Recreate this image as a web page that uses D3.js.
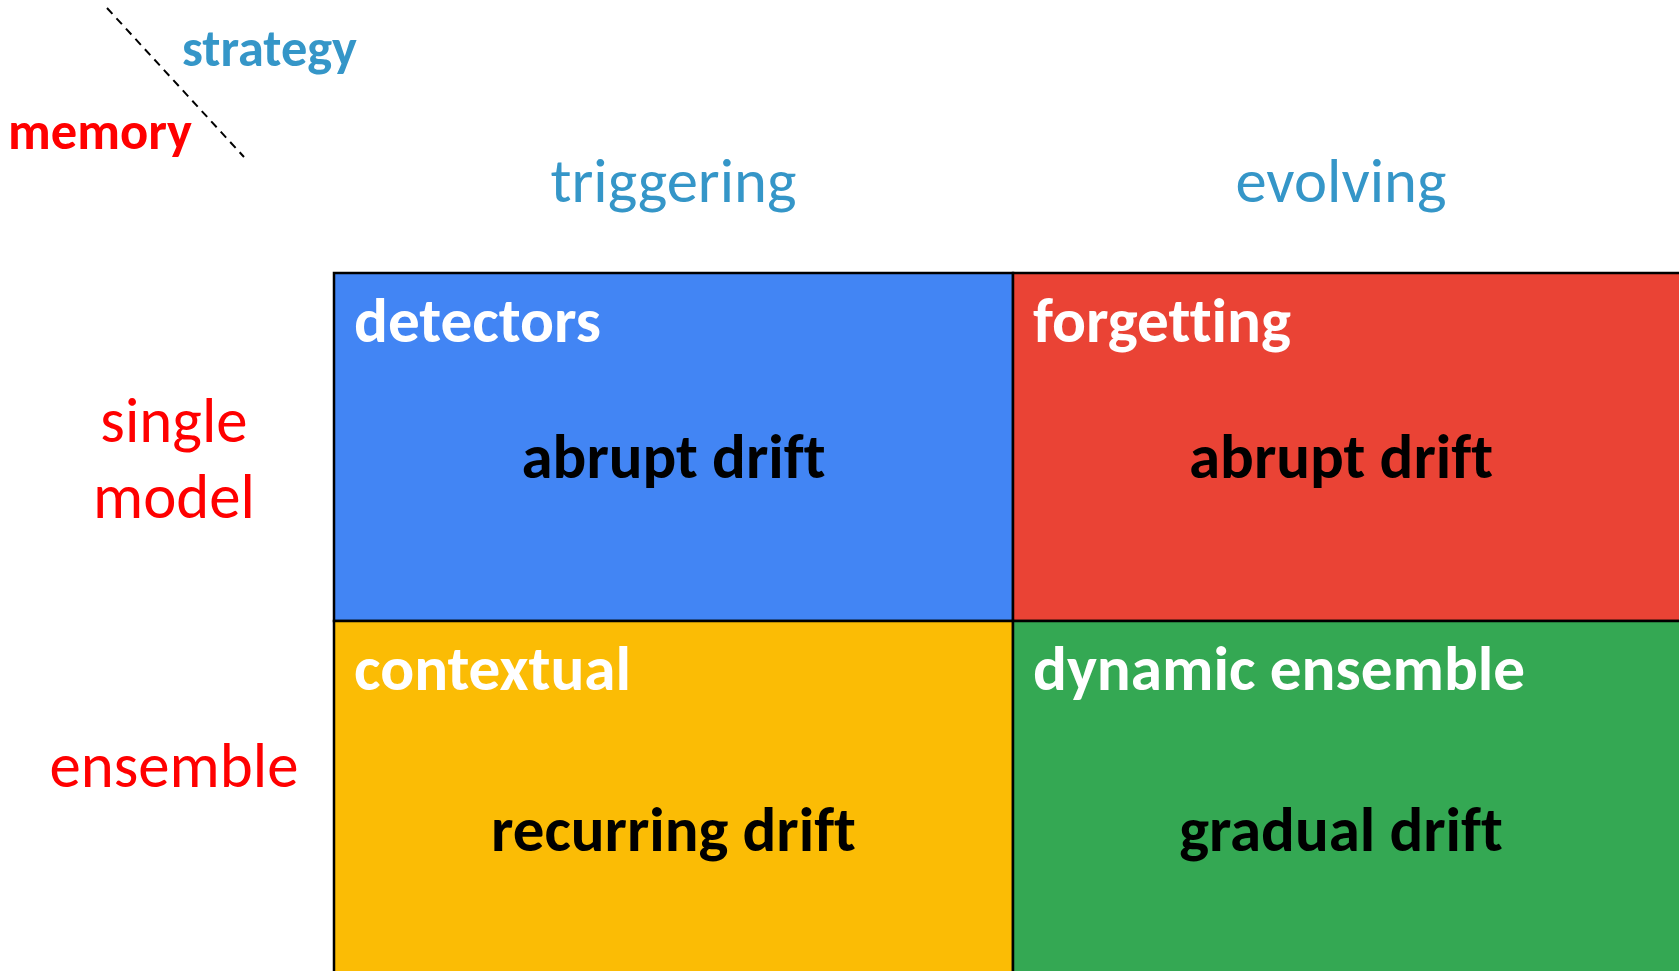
<!DOCTYPE html>
<html>
<head>
<meta charset="utf-8">
<script src="https://cdn.jsdelivr.net/npm/d3@7"></script>
<style>
  html, body { margin: 0; padding: 0; background: #fff; overflow: hidden; }
  svg { display: block; }
  text { font-variant-ligatures: none; font-feature-settings: "liga" 0, "clig" 0; }
</style>
</head>
<body>
<svg id="chart" width="1679" height="971"></svg>
<script>
// ---- data ----
const strategies = ["triggering", "evolving"];          // column headers
const memories = ["single model", "ensemble"];           // row headers
const cellStrategy = ["triggering", "evolving", "triggering", "evolving"];
const cellMemory = ["single model", "single model", "ensemble", "ensemble"];
const methods = ["detectors", "forgetting", "contextual", "dynamic ensemble"];
const drifts = ["abrupt drift", "abrupt drift", "recurring drift", "gradual drift"];
const axisTitles = ["strategy", "memory"];

// ---- layout / styles ----
const W = 1679, H = 971;
const FONT = "Calibri, Carlito, Lato, 'Open Sans', sans-serif";
const headerBlue = "#3596C8";
const memRed = "#FF0000";
const fillColor = d3.scaleOrdinal()
  .domain(methods)
  .range(["#4285F4", "#EA4335", "#FBBC05", "#34A853"]);

const svg = d3.select("#chart");

// grid scales (nominal cell extents; the grid bleeds past the page edges)
const x = d3.scaleOrdinal().domain(strategies).range([334, 1013]);
const xEnd = d3.scaleOrdinal().domain(strategies).range([1013, 1669]);
const y = d3.scaleOrdinal().domain(memories).range([273, 621]);
const yEnd = d3.scaleOrdinal().domain(memories).range([621, 1018]);
const bleed = 40;

const cells = methods.map((m, i) => ({
  method: m, drift: drifts[i], s: cellStrategy[i], mem: cellMemory[i]
}));

function fitGroup(sel, refIndex, targetWidth) {
  const node = sel.nodes()[refIndex];
  const fs = parseFloat(d3.select(node).attr("font-size"));
  const w = node.getComputedTextLength();
  sel.attr("font-size", fs * targetWidth / w);
}

// cells
svg.append("g").selectAll("rect")
  .data(cells)
  .join("rect")
  .attr("x", d => x(d.s))
  .attr("y", d => y(d.mem))
  .attr("width", d => (xEnd(d.s) - x(d.s)) + (d.s === strategies[1] ? bleed : 0))
  .attr("height", d => (yEnd(d.mem) - y(d.mem)) + (d.mem === memories[1] ? bleed : 0))
  .attr("fill", d => fillColor(d.method))
  .attr("stroke", "#000")
  .attr("stroke-width", 2.5);

// method titles (white, bold, top-left)
const titles = svg.append("g").selectAll("text")
  .data(cells)
  .join("text")
  .attr("x", d => x(d.s) + 20)
  .attr("y", d => y(d.mem) + 69)
  .attr("font-family", FONT)
  .attr("font-weight", "bold")
  .attr("font-size", 50)
  .attr("fill", "#fff")
  .text(d => d.method);
fitGroup(titles, 0, 247);

// drift labels (black bold, centered)
const driftLabels = svg.append("g").selectAll("text")
  .data(cells)
  .join("text")
  .attr("x", d => (x(d.s) + xEnd(d.s)) / 2)
  .attr("y", d => (y(d.mem) + yEnd(d.mem)) / 2 + 31)
  .attr("text-anchor", "middle")
  .attr("font-family", FONT)
  .attr("font-weight", "bold")
  .attr("font-size", 55)
  .attr("fill", "#000")
  .text(d => d.drift);
fitGroup(driftLabels, 0, 304);

// column headers
const colHeads = svg.append("g").selectAll("text")
  .data(strategies)
  .join("text")
  .attr("x", d => (x(d) + xEnd(d)) / 2)
  .attr("y", 202)
  .attr("text-anchor", "middle")
  .attr("font-family", FONT)
  .attr("font-size", 55)
  .attr("fill", headerBlue)
  .text(d => d);
fitGroup(colHeads, 0, 246);

// row headers
const rowHeads = svg.append("g").selectAll("text")
  .data(memories)
  .join("text")
  .attr("x", 174)
  .attr("y", (d, i) => i === 0 ? 442 : 787)
  .attr("text-anchor", "middle")
  .attr("font-family", FONT)
  .attr("font-size", 55)
  .attr("fill", memRed);
rowHeads.each(function(d) {
  const words = d.split(" ");
  const t = d3.select(this);
  words.forEach((wd, j) => {
    t.append("tspan").attr("x", 174).attr("dy", j === 0 ? 0 : 76).text(wd);
  });
});
(function() {
  const node = rowHeads.nodes()[1];
  const fs = parseFloat(d3.select(node).attr("font-size"));
  const w = node.getComputedTextLength();
  rowHeads.attr("font-size", fs * 249 / w);
})();

// corner: dashed diagonal + axis titles
svg.append("line")
  .attr("x1", 107).attr("y1", 8)
  .attr("x2", 244).attr("y2", 157)
  .attr("stroke", "#000")
  .attr("stroke-width", 2)
  .attr("stroke-dasharray", "8,6");

const strat = svg.append("text")
  .attr("x", 182).attr("y", 66)
  .attr("font-family", FONT)
  .attr("font-weight", "bold")
  .attr("font-size", 45)
  .attr("fill", headerBlue)
  .text(axisTitles[0]);
fitGroup(strat, 0, 175);

const mem = svg.append("text")
  .attr("x", 8).attr("y", 149)
  .attr("font-family", FONT)
  .attr("font-weight", "bold")
  .attr("font-size", 45)
  .attr("fill", memRed)
  .text(axisTitles[1]);
fitGroup(mem, 0, 184);
</script>
</body>
</html>
